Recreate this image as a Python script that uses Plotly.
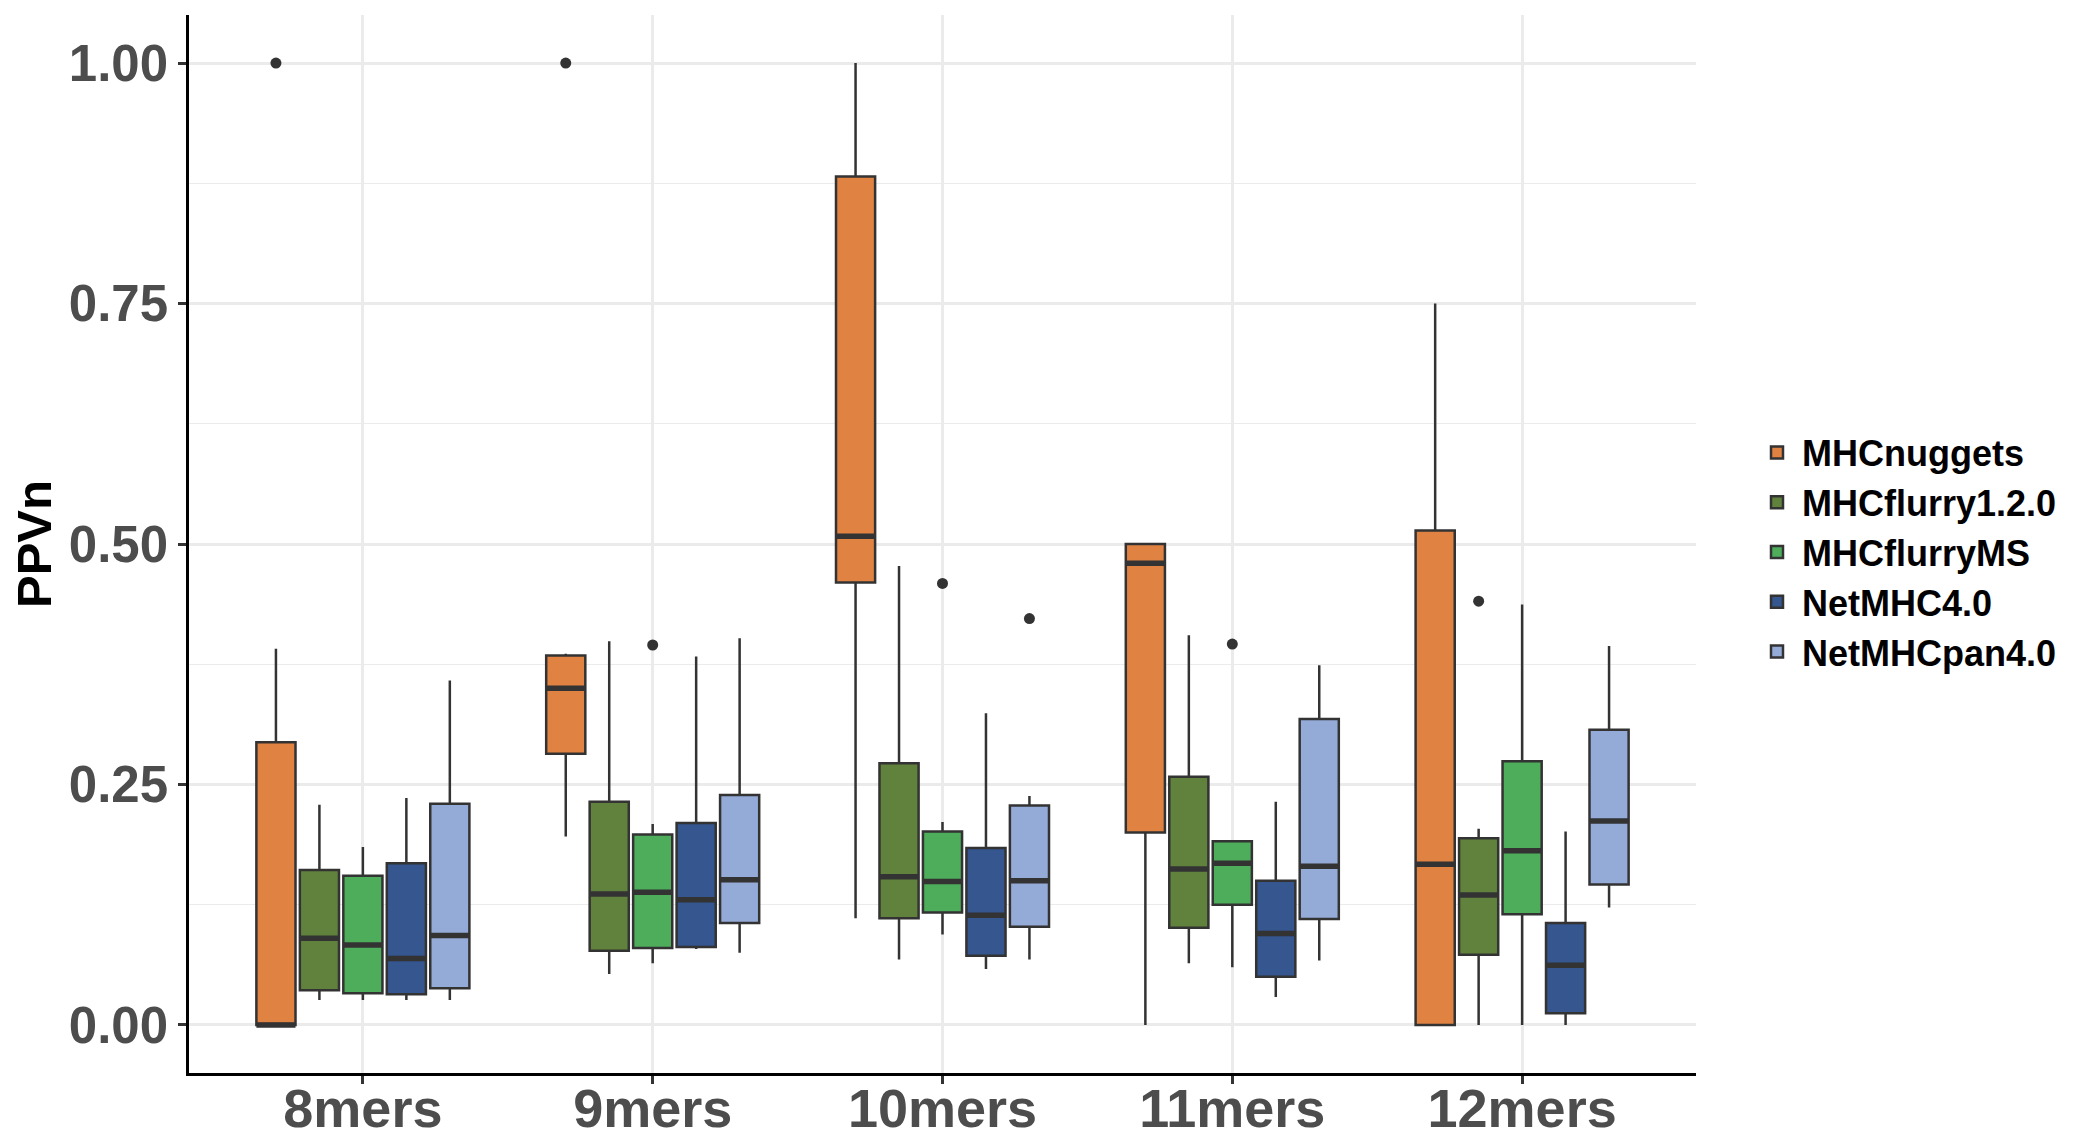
import plotly.graph_objects as go

categories = ["8mers", "9mers", "10mers", "11mers", "12mers"]
methods = ["MHCnuggets", "MHCflurry1.2.0", "MHCflurryMS", "NetMHC4.0", "NetMHCpan4.0"]
colors = ["#E08242", "#61823D", "#4DAD5B", "#35568F", "#94ABD8"]

# per-method box statistics (one value per category)
lower_MHCnuggets = [0.0, 0.196, 0.111, 0.0, 0.0]
q1_MHCnuggets = [0.0, 0.282, 0.460, 0.200, 0.0]
median_MHCnuggets = [0.0, 0.350, 0.508, 0.480, 0.167]
q3_MHCnuggets = [0.294, 0.384, 0.882, 0.500, 0.514]
upper_MHCnuggets = [0.391, 0.386, 1.0, 0.500, 0.750]

lower_MHCflurry120 = [0.026, 0.053, 0.068, 0.064, 0.0]
q1_MHCflurry120 = [0.036, 0.077, 0.111, 0.101, 0.073]
median_MHCflurry120 = [0.090, 0.136, 0.154, 0.162, 0.135]
q3_MHCflurry120 = [0.161, 0.232, 0.272, 0.258, 0.194]
upper_MHCflurry120 = [0.229, 0.399, 0.477, 0.405, 0.204]

lower_MHCflurryMS = [0.026, 0.064, 0.094, 0.060, 0.0]
q1_MHCflurryMS = [0.033, 0.080, 0.117, 0.125, 0.115]
median_MHCflurryMS = [0.083, 0.138, 0.149, 0.168, 0.181]
q3_MHCflurryMS = [0.155, 0.198, 0.201, 0.191, 0.274]
upper_MHCflurryMS = [0.185, 0.209, 0.211, 0.192, 0.437]

lower_NetMHC40 = [0.026, 0.079, 0.058, 0.029, 0.0]
q1_NetMHC40 = [0.032, 0.081, 0.072, 0.050, 0.012]
median_NetMHC40 = [0.069, 0.130, 0.114, 0.095, 0.062]
q3_NetMHC40 = [0.168, 0.210, 0.184, 0.150, 0.106]
upper_NetMHC40 = [0.236, 0.383, 0.324, 0.232, 0.201]

lower_NetMHCpan40 = [0.026, 0.075, 0.068, 0.067, 0.122]
q1_NetMHCpan40 = [0.038, 0.106, 0.102, 0.110, 0.146]
median_NetMHCpan40 = [0.093, 0.151, 0.150, 0.165, 0.212]
q3_NetMHCpan40 = [0.230, 0.239, 0.228, 0.318, 0.307]
upper_NetMHCpan40 = [0.358, 0.402, 0.238, 0.374, 0.394]

# outliers: category index, method index, value
outlier_cat = [0, 1, 1, 2, 2, 3, 4]
outlier_method = [0, 0, 2, 2, 4, 2, 1]
outlier_value = [1.0, 1.0, 0.395, 0.459, 0.4225, 0.396, 0.4405]

yticks = [0.0, 0.25, 0.5, 0.75, 1.0]

stats = [
    (lower_MHCnuggets, q1_MHCnuggets, median_MHCnuggets, q3_MHCnuggets, upper_MHCnuggets),
    (lower_MHCflurry120, q1_MHCflurry120, median_MHCflurry120, q3_MHCflurry120, upper_MHCflurry120),
    (lower_MHCflurryMS, q1_MHCflurryMS, median_MHCflurryMS, q3_MHCflurryMS, upper_MHCflurryMS),
    (lower_NetMHC40, q1_NetMHC40, median_NetMHC40, q3_NetMHC40, upper_NetMHC40),
    (lower_NetMHCpan40, q1_NetMHCpan40, median_NetMHCpan40, q3_NetMHCpan40, upper_NetMHCpan40),
]

DODGE = 0.75
n = len(methods)
slot = DODGE / n
bw = slot * 0.9
line_col = "#333333"
FONT = "Liberation Sans, Arial, sans-serif"

W, H = 2086, 1140
L, R, T, B = 189, 390, 15, 67
PW = W - L - R
PH = H - T - B


def pos(ci, mi):
    return (ci + 1) + (mi - (n - 1) / 2) * slot


fig = go.Figure()
for mi, (name, col) in enumerate(zip(methods, colors)):
    lo, q1, med, q3, hi = stats[mi]
    xs = [pos(ci, mi) for ci in range(len(categories))]
    fig.add_trace(go.Box(
        x=xs, q1=q1, median=med, q3=q3, lowerfence=lo, upperfence=hi,
        width=bw, name=name, fillcolor=col,
        line=dict(color=line_col, width=2.5), whiskerwidth=0,
        boxpoints=False, showlegend=True,
    ))

# thick median lines
for mi in range(n):
    med = stats[mi][2]
    mx, my = [], []
    for ci in range(len(categories)):
        c = pos(ci, mi)
        mx += [c - bw / 2, c + bw / 2, None]
        my += [med[ci], med[ci], None]
    fig.add_trace(go.Scatter(x=mx, y=my, mode="lines",
                             line=dict(color=line_col, width=5.5),
                             showlegend=False, hoverinfo="skip"))

# outliers
fig.add_trace(go.Scatter(
    x=[pos(c, m) for c, m in zip(outlier_cat, outlier_method)],
    y=outlier_value, mode="markers",
    marker=dict(color=line_col, size=11), showlegend=False,
))

fig.update_layout(
    width=W, height=H,
    margin=dict(l=L, r=R, t=T, b=B, autoexpand=False),
    plot_bgcolor="white", paper_bgcolor="white",
    font=dict(family=FONT, color="#4D4D4D"),
    showlegend=True,
    legend=dict(x=(1752 - L) / PW, xanchor="left", y=0.5 - 8 / PH, yanchor="middle",
                font=dict(family=FONT, size=36, color="black", weight="bold"),
                tracegroupgap=0, itemwidth=40),
)
fig.update_xaxes(
    range=[0.4, 5.6], tickvals=[1, 2, 3, 4, 5], ticktext=categories,
    showgrid=True, gridcolor="#EBEBEB", gridwidth=2.5, zeroline=False,
    showline=True, linecolor="black", linewidth=2.5, automargin=False,
    ticks="outside", ticklen=8, tickwidth=2.5, tickcolor=line_col,
    ticklabelstandoff=-22,
    tickfont=dict(family=FONT, size=54, color="#4D4D4D", weight="bold"),
)
fig.update_yaxes(
    range=[-0.05, 1.05], tickvals=yticks, tickformat=".2f",
    showgrid=True, gridcolor="#EBEBEB", gridwidth=2.5, zeroline=False,
    showline=True, linecolor="black", linewidth=2.5, automargin=False,
    ticks="outside", ticklen=8, tickwidth=2.5, tickcolor=line_col,
    tickfont=dict(family=FONT, size=51, color="#4D4D4D", weight="bold"),
    minor=dict(tick0=0.125, dtick=0.25, showgrid=True, gridcolor="#EBEBEB", gridwidth=1.3, ticks=""),
)
fig.add_annotation(
    text="<b>PPVn</b>", xref="paper", yref="paper",
    x=(34 - L) / PW, y=0.5, xanchor="center", yanchor="middle",
    textangle=-90, showarrow=False,
    font=dict(family=FONT, size=49, color="black"),
)

fig.write_html(
    "out.html",
    config={"displayModeBar": False},
    post_script="document.body.style.margin='0';document.body.style.overflow='hidden';",
)
